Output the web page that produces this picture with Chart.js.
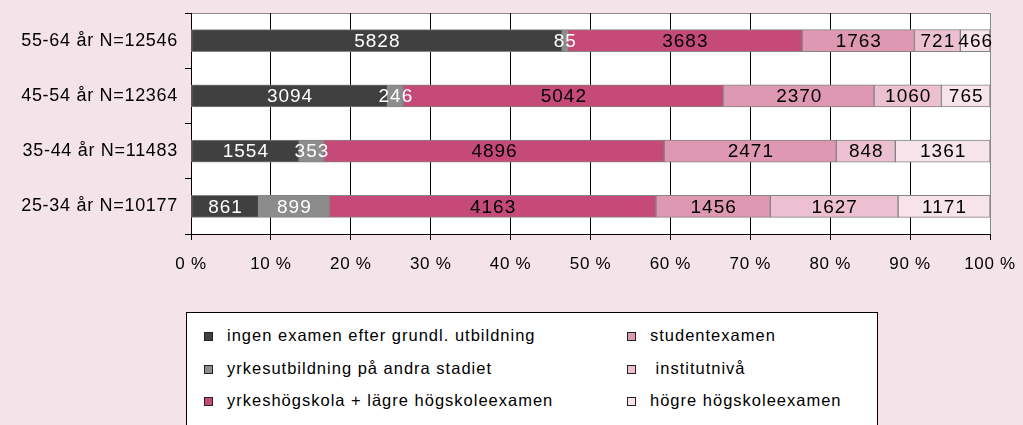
<!DOCTYPE html>
<html>
<head>
<meta charset="utf-8">
<script src="https://cdn.jsdelivr.net/npm/chart.js@4"></script>
<style>
  body { margin: 0; background: #f4e3e9; width: 1023px; height: 425px; overflow: hidden; position: relative; font-family: "Liberation Sans", Arial, sans-serif; }
  #chartBox { position: absolute; left: 0; top: 0; width: 1023px; height: 280px; }
  #legend { position: absolute; left: 186px; top: 312px; width: 690px; height: 140px; border: 1px solid #000; background: #fff; }
  .item { position: absolute; height: 20px; font-size: 16.5px; letter-spacing: 1px; color: #000; white-space: pre; }
  .item .box { position: absolute; left: 0; top: 7px; width: 7px; height: 7px; border: 1px solid #222; }
  .item .txt { position: absolute; left: 23px; top: 0; line-height: 20px; }
</style>
</head>
<body>
<div id="chartBox"><canvas id="chart"></canvas></div>
<div id="legend"></div>
<script>
const ageGroups = ["55-64 år N=12546", "45-54 år N=12364", "35-44 år N=11483", "25-34 år N=10177"];

const seriesNames = [
  "ingen examen efter grundl. utbildning",
  "yrkesutbildning på andra stadiet",
  "yrkeshögskola + lägre högskoleexamen",
  "studentexamen",
  " institutnivå",
  "högre högskoleexamen"
];

const ingenExamen = [5828, 3094, 1554, 861];
const yrkesutbildning = [85, 246, 353, 899];
const yrkeshogskola = [3683, 5042, 4896, 4163];
const studentexamen = [1763, 2370, 2471, 1456];
const institutniva = [721, 1060, 848, 1627];
const hogreExamen = [466, 765, 1361, 1171];

const xTicks = [0, 10, 20, 30, 40, 50, 60, 70, 80, 90, 100];

const colors = ["#404040", "#8c8c8c", "#c64a77", "#de98b1", "#ecc0d0", "#f7e3ea"];
const labelColors = ["#fff", "#fff", "#000", "#000", "#000", "#000"];

const counts = [ingenExamen, yrkesutbildning, yrkeshogskola, studentexamen, institutniva, hogreExamen];
const totals = ageGroups.map((g, i) => counts.reduce((s, arr) => s + arr[i], 0));

const datasets = counts.map((arr, k) => ({
  label: seriesNames[k].trim(),
  data: arr.map((v, i) => v / totals[i] * 100),
  raw: arr,
  backgroundColor: colors[k],
  borderColor: "#858585",
  borderWidth: 1,
  borderSkipped: false,
  barThickness: 22
}));

const FONT = "'Liberation Sans', Arial, sans-serif";
const SPACING = "0.7px";

// letter spacing gets reset when the canvas is resized, so set it each time
const spacing = {
  id: "spacing",
  beforeUpdate(chart) { chart.ctx.letterSpacing = SPACING; },
  beforeDraw(chart) { chart.ctx.letterSpacing = SPACING; }
};

const plotBg = {
  id: "plotBg",
  beforeDraw(chart) {
    const { ctx, chartArea: a } = chart;
    ctx.save();
    ctx.fillStyle = "#fff";
    ctx.fillRect(a.left, a.top, a.right - a.left, a.bottom - a.top);
    ctx.strokeStyle = "#888";
    ctx.lineWidth = 1;
    ctx.beginPath();
    ctx.moveTo(a.left, a.top + 0.5);
    ctx.lineTo(a.right + 0.5, a.top + 0.5);
    ctx.lineTo(a.right + 0.5, a.bottom);
    ctx.stroke();
    ctx.restore();
  }
};

const barLabels = {
  id: "barLabels",
  afterDatasetsDraw(chart) {
    const ctx = chart.ctx;
    ctx.save();
    ctx.letterSpacing = "1px";
    ctx.font = "19px " + FONT;
    ctx.textAlign = "center";
    ctx.textBaseline = "middle";
    chart.data.datasets.forEach((ds, k) => {
      chart.getDatasetMeta(k).data.forEach((bar, i) => {
        ctx.fillStyle = labelColors[k];
        ctx.fillText(String(ds.raw[i]), (bar.x + bar.base) / 2 + 0.5, bar.y + 1);
      });
    });
    ctx.restore();
  }
};

new Chart(document.getElementById("chart"), {
  type: "bar",
  data: { labels: ageGroups, datasets: datasets },
  plugins: [spacing, plotBg, barLabels],
  options: {
    indexAxis: "y",
    responsive: true,
    maintainAspectRatio: false,
    animation: false,
    layout: { padding: { top: 13, right: 33, left: 0, bottom: 0 } },
    plugins: { legend: { display: false }, tooltip: { enabled: false } },
    scales: {
      x: {
        stacked: true,
        min: 0,
        max: 100,
        afterBuildTicks(scale) { scale.ticks = xTicks.map(v => ({ value: v })); },
        afterFit(scale) {
          scale.height = 46;
          scale.paddingLeft = 0;
          scale.paddingRight = 0;
        },
        ticks: {
          callback: v => v + " %",
          color: "#000",
          font: { family: FONT, size: 17 },
          padding: 14,
          maxRotation: 0,
          autoSkip: false
        },
        grid: {
          color: c => (c.tick && c.tick.value === 100 ? "#888" : "#000"),
          tickColor: "#000",
          tickLength: 6,
          lineWidth: 1
        },
        border: { color: "#000", width: 1 }
      },
      y: {
        stacked: true,
        afterFit(scale) {
          scale.width = 191;
          scale.paddingTop = 0;
          scale.paddingBottom = 0;
        },
        ticks: {
          color: "#000",
          font: { family: FONT, size: 18 },
          padding: 7
        },
        grid: {
          drawOnChartArea: false,
          tickColor: "#000",
          tickLength: 6
        },
        border: { color: "#000", width: 1 }
      }
    }
  }
});

// legend: two columns, filled top to bottom
const legend = document.getElementById("legend");
seriesNames.forEach((name, k) => {
  const col = Math.floor(k / 3);
  const row = k % 3;
  const item = document.createElement("div");
  item.className = "item";
  item.style.left = (col === 0 ? 17 : 440) + "px";
  item.style.top = (12 + row * 32.5) + "px";
  const box = document.createElement("span");
  box.className = "box";
  box.style.background = colors[k];
  const txt = document.createElement("span");
  txt.className = "txt";
  txt.textContent = name;
  item.appendChild(box);
  item.appendChild(txt);
  legend.appendChild(item);
});
</script>
</body>
</html>
